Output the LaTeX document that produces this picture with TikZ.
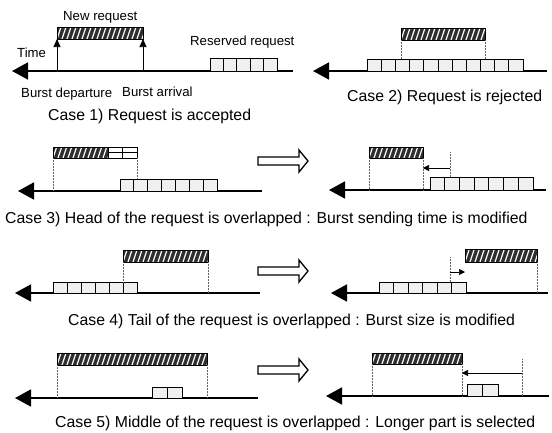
\documentclass[tikz,border=0pt]{standalone}
\usepackage{fontspec}
\setmainfont{Liberation Sans}
\usetikzlibrary{arrows.meta}
\tikzset{
  axisline/.style={line width=1.7pt, -{Triangle[length=16pt,width=17pt]}},
  guide/.style={densely dotted, line width=0.5pt, black!60},
  cellbox/.style={draw, line width=0.8pt, fill=black!6, inner sep=0pt, outer sep=0pt, anchor=south west},
  plainbox/.style={draw, line width=0.9pt, fill=white, inner sep=0pt, outer sep=0pt, anchor=north west},
  hatchbox/.style={draw, line width=0.9pt, inner sep=0pt, outer sep=0pt, anchor=north west,
    path picture={
      \fill[black!82] (path picture bounding box.south west) rectangle (path picture bounding box.north east);
      \foreach \k in {-3,...,32}{\draw[white,line width=1.2pt] ([xshift=\k*5pt]path picture bounding box.south west) -- ++(5pt,15pt);}
    }},
  lbl/.style={font=\fontsize{13.2}{15}\selectfont, inner sep=0pt, anchor=base west},
  captxt/.style={font=\fontsize{15.8}{18}\selectfont, inner sep=0pt, anchor=base west},
  hollow/.style={draw, line width=1.3pt, fill=white, line join=miter},
  shiftarrow/.style={-{Triangle[length=6pt,width=6pt]}, line width=0.7pt},
  uparrow/.style={-{Triangle[length=8pt,width=7pt]}, line width=0.7pt}
}
\newcommand{\cellrow}[6]{%
  \node[cellbox, minimum width={#3-#2}, minimum height={#5-#4}] (#1) at (#2,#5) {};
  \pgfmathtruncatemacro{\cnm}{#6-1}
  \foreach \k in {1,...,\cnm}{\pgfmathsetmacro{\cxx}{#2+\k*(#3-#2)/#6}\draw[line width=0.8pt] (\cxx,#4) -- (\cxx,#5);}
}
\newcommand{\hreq}[5]{%
  \node[hatchbox, minimum width={#3-#2}, minimum height={#5-#4}] (#1) at (#2,#4) {};
}
\newcommand{\hollowarrow}[1]{%
  \draw[hollow] (258,#1-4) -- (299,#1-4) -- (299,#1-11) -- (308,#1) -- (299,#1+11) -- (299,#1+4) -- (258,#1+4) -- cycle;
}
\begin{document}
\begin{tikzpicture}[x=1pt,y=-1pt]
\useasboundingbox (0,0) rectangle (552,432);

% ---------- Case 1 ----------
\coordinate (t1) at (12,71); \coordinate (e1) at (293,71);
\draw[axisline] (e1) -- (t1);
\hreq{r1}{57}{143}{27}{39}
\cellrow{s1}{210}{277}{58}{71}{5}
\coordinate (d1) at (57,71); \coordinate (a1) at (143,71);
\draw[uparrow] (d1) -- (r1.south west);
\draw[uparrow] (a1) -- (r1.south east);
\node[lbl] (nr) at (63,20) {New request};
\node[lbl] (tm) at (17,57) {Time};
\node[lbl] (rr) at (190,45) {Reserved request};
\node[lbl] (bd) at (21,97) {Burst departure};
\node[lbl] (ba) at (122,96) {Burst arrival};
\node[captxt] (c1) at (48,120) {Case 1) Request is accepted};

% ---------- Case 2 ----------
\coordinate (t2) at (313,71); \coordinate (e2) at (547,71);
\draw[axisline] (e2) -- (t2);
\cellrow{s2}{367}{523}{59}{71}{11}
\hreq{r2}{401}{485}{28}{40}
\draw[guide] (r2.south west) -- (401,59);
\draw[guide] (r2.south east) -- (485,59);
\node[captxt] (c2) at (347,101) {Case 2) Request is rejected};

% ---------- Case 3 ----------
\coordinate (t3) at (18,191); \coordinate (e3) at (262,191);
\draw[axisline] (e3) -- (t3);
\cellrow{s3}{120}{217}{179}{191}{7}
\hreq{r3a}{53}{108}{147}{158}
\node[plainbox, minimum width=29, minimum height=11] (r3b) at (108,147) {};
\draw[line width=0.8pt] (r3b.west) -- (r3b.east);
\draw[line width=0.8pt] (122,147) -- (122,158);
\draw[guide] (r3a.south west) -- (53,191);
\draw[guide] (r3b.south east) -- (137,179);
\hollowarrow{161}
\coordinate (t3r) at (329,190); \coordinate (e3r) at (546,190);
\draw[axisline] (e3r) -- (t3r);
\cellrow{s3r}{430}{533}{177}{190}{7}
\hreq{r3r}{369}{423}{147}{158}
\draw[guide] (r3r.south west) -- (369,190);
\draw[guide] (r3r.south east) -- (423,190);
\coordinate (o3) at (450,152); \coordinate (o3b) at (450,177);
\draw[guide] (o3) -- (o3b);
\coordinate (m3) at (450,168); \coordinate (m3b) at (423,168);
\draw[shiftarrow] (m3) -- (m3b);
\node[captxt] (c3) at (5,223) {Case 3) Head of the request is overlapped : Burst sending time is modified};

% ---------- Case 4 ----------
\coordinate (t4) at (15,293); \coordinate (e4) at (260,293);
\draw[axisline] (e4) -- (t4);
\cellrow{s4}{53}{137}{282}{293}{6}
\hreq{r4}{123}{208}{250}{262}
\draw[guide] (r4.south west) -- (123,282);
\draw[guide] (r4.south east) -- (208,293);
\hollowarrow{271}
\coordinate (t4r) at (331,293); \coordinate (e4r) at (548,293);
\draw[axisline] (e4r) -- (t4r);
\cellrow{s4r}{379}{466}{282}{293}{6}
\hreq{r4r}{465}{537}{249}{262}
\draw[guide] (r4r.south east) -- (537,293);
\coordinate (o4) at (450,257); \coordinate (o4b) at (450,282);
\draw[guide] (o4) -- (o4b);
\coordinate (m4) at (450,272); \coordinate (m4b) at (465,272);
\draw[shiftarrow] (m4) -- (m4b);
\node[captxt] (c4) at (68,325) {Case 4) Tail of the request is overlapped : Burst size is modified};

% ---------- Case 5 ----------
\coordinate (t5) at (15,398); \coordinate (e5) at (258,398);
\draw[axisline] (e5) -- (t5);
\hreq{r5}{57}{207}{353}{365}
\cellrow{s5}{152}{182}{387}{398}{2}
\draw[guide] (r5.south west) -- (57,398);
\draw[guide] (r5.south east) -- (207,398);
\hollowarrow{370}
\coordinate (t5r) at (326,396); \coordinate (e5r) at (549,396);
\draw[axisline] (e5r) -- (t5r);
\hreq{r5r}{372}{462}{353}{364}
\cellrow{s5r}{467}{498}{384}{396}{2}
\draw[guide] (r5r.south west) -- (372,396);
\draw[guide] (r5r.south east) -- (462,396);
\coordinate (o5) at (522,359); \coordinate (o5b) at (522,396);
\draw[guide] (o5) -- (o5b);
\coordinate (m5) at (522,373); \coordinate (m5b) at (462,373);
\draw[shiftarrow] (m5) -- (m5b);
\node[captxt] (c5) at (55,427) {Case 5) Middle of the request is overlapped : Longer part is selected};
\end{tikzpicture}
\end{document}
